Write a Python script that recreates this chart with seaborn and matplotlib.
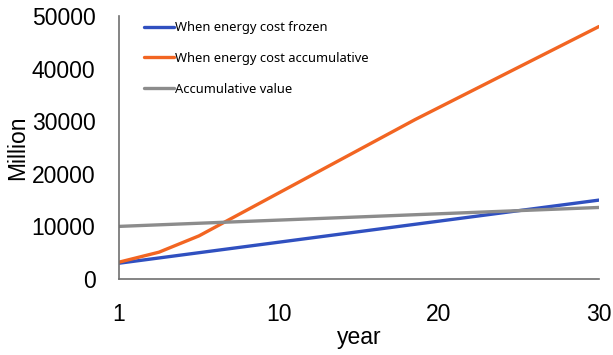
import pandas as pd
import matplotlib.pyplot as plt
import seaborn as sns

# year index (0 -> year 1)
frozen_x = [0, 12.5, 30]
frozen_y = [3000, 8000, 15000]

accum_x = [0, 2.5, 5, 18.5, 30]
accum_y = [3200, 5100, 8200, 30300, 48000]

value_x = [0, 30]
value_y = [10000, 13600]

tick_pos = [0, 10, 20, 30]
tick_labels = ["1", "10", "20", "30"]

labels = ["When energy cost frozen", "When energy cost accumulative", "Accumulative value"]
colors = ["#3050c0", "#f26522", "#8c8c8c"]

sns.set_style("white")
plt.rcParams["font.family"] = ["Liberation Sans", "DejaVu Sans"]
plt.rcParams["text.color"] = "black"
plt.rcParams["axes.labelcolor"] = "black"

fig = plt.figure(figsize=(6.13, 3.55), dpi=100)
ax = fig.add_axes([119 / 613, 1 - 279 / 355, 480 / 613, 263 / 355])

for xs, ys, lab, col in zip([frozen_x, accum_x, value_x], [frozen_y, accum_y, value_y], labels, colors):
    df = pd.DataFrame({"x": xs, "y": ys})
    sns.lineplot(data=df, x="x", y="y", ax=ax, color=col, linewidth=2.4, label=lab)

ax.set_xlim(0, 30)
ax.set_ylim(0, 50000)
ax.set_xticks(tick_pos)
ax.set_xticklabels(tick_labels)
ax.set_yticks(range(0, 50001, 10000))

for side in ["top", "right"]:
    ax.spines[side].set_visible(False)
for side in ["left", "bottom"]:
    ax.spines[side].set_color("#707070")
    ax.spines[side].set_linewidth(1.2)

ax.tick_params(axis="x", direction="in", length=5, width=1, color="#505050", labelcolor="black", pad=17, labelsize=16.5)
ax.tick_params(axis="y", direction="out", length=4, width=1, color="#505050", labelcolor="black", pad=13, labelsize=16.5)

ax.set_xlabel("year", fontsize=16.5, labelpad=0)
ax.set_ylabel("Million", fontsize=16.5, labelpad=2)

leg = ax.legend(loc="upper left", bbox_to_anchor=(0.028, 1.025), frameon=False,
                handlelength=2.3, handletextpad=0.1, labelspacing=1.38,
                prop={"family": "Noto Sans", "size": 9.3})

fig.savefig("out.png", dpi=100)
